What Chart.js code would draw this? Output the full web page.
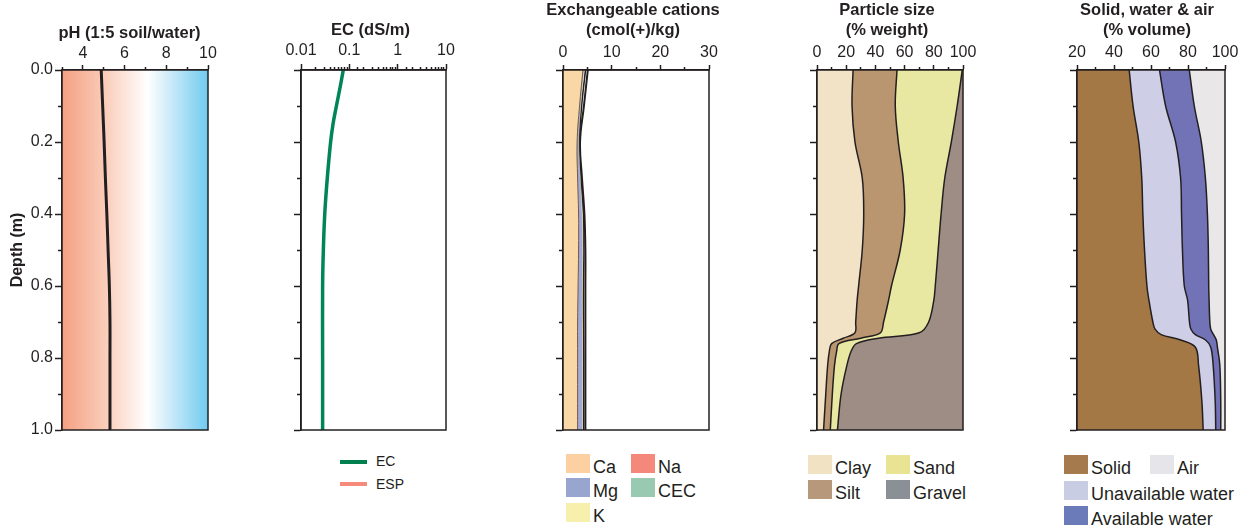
<!DOCTYPE html>
<html>
<head>
<meta charset="utf-8">
<title>Soil profile</title>
<script src="https://cdn.jsdelivr.net/npm/chart.js@4.4.1/dist/chart.umd.min.js"></script>
<style>
    html, body { margin: 0; padding: 0; background: #fff; }
    body {
        width: 1250px; height: 531px; position: relative; overflow: hidden;
        font-family: 'Liberation Sans', Arial, Helvetica, sans-serif; color: #231f20;
    }
    canvas { position: absolute; top: 0; }
    .legend { position: absolute; }
    .item { position: absolute; height: 19px; white-space: nowrap; }
    .box { position: absolute; left: 0; top: 0; width: 24px; height: 19px; }
    .txt { position: absolute; left: 27px; bottom: -3px; font-size: 18px; line-height: 1; }
    .line { position: absolute; left: 0; top: 7.5px; width: 27px; height: 4px; }
    .ltxt { position: absolute; left: 36px; top: 0; font-size: 14px; line-height: 19px; }
</style>
</head>
<body>
<canvas id="phChart" width="259" height="442" style="left:0px"></canvas>
<canvas id="ecChart" width="219" height="442" style="left:261px"></canvas>
<canvas id="cationChart" width="220" height="442" style="left:523px"></canvas>
<canvas id="sizeChart" width="220" height="442" style="left:777px"></canvas>
<canvas id="phaseChart" width="220" height="442" style="left:1037px"></canvas>
<div class="legend" id="ecLegend" style="left:340px; top:452px"></div>
<div class="legend" id="cationLegend" style="left:566px; top:454px"></div>
<div class="legend" id="sizeLegend" style="left:808px; top:455px"></div>
<div class="legend" id="phaseLegend" style="left:1064px; top:455px"></div>

<script>
// 土壤剖面图 - 数据

const depthLabels = ['0.0', '0.2', '0.4', '0.6', '0.8', '1.0'];

// pH
const phDepth = [0, 0.1, 0.2, 0.3, 0.4, 0.5, 0.6, 0.7, 0.8, 0.9, 1.0];
const phValues = [4.88, 4.95, 5.02, 5.08, 5.15, 5.21, 5.27, 5.3, 5.3, 5.3, 5.3];
const phTickLabels = [4, 6, 8, 10];

// EC / ESP
const ecDepth = [0, 0.05, 0.1, 0.15, 0.2, 0.3, 0.4, 0.5, 0.6, 0.8, 1.0];
const ecValues = [0.075, 0.064, 0.054, 0.046, 0.041, 0.035, 0.031, 0.029, 0.028, 0.028, 0.028];
const espValues = [];
const ecTickLabels = ['0.01', '0.1', '1', '10'];

// 交换性阳离子
const cationDepth = [0, 0.1, 0.2, 0.3, 0.4, 0.5, 0.6, 0.7, 0.8, 0.9, 1.0];
const caValues = [4.1, 3.4, 2.9, 3.0, 3.2, 3.2, 3.1, 3.0, 3.0, 3.0, 3.0];
const mgValues = [0.2, 0.2, 0.3, 0.5, 0.7, 0.8, 0.8, 0.9, 0.95, 0.95, 0.95];
const kValues = [0.15, 0.1, 0.1, 0.1, 0.15, 0.15, 0.15, 0.15, 0.15, 0.15, 0.15];
const naValues = [0.15, 0.1, 0.05, 0.05, 0.1, 0.1, 0.1, 0.1, 0.1, 0.1, 0.1];
const cecValues = [5.1, 4.3, 3.5, 3.9, 4.4, 4.6, 4.6, 4.6, 4.6, 4.6, 4.6];
const cationTickLabels = [0, 10, 20, 30];

// 颗粒组成 (% weight)
const sizeDepth = [0, 0.1, 0.2, 0.3, 0.4, 0.5, 0.6, 0.64, 0.7, 0.73, 0.745, 0.76, 0.78, 0.82, 0.9, 1.0];
const clayValues = [24.7, 24, 26, 31, 32, 31, 28.5, 27.5, 26.5, 26, 18, 10, 8.5, 7.3, 6, 4.5];
const siltValues = [30.1, 29.6, 29.7, 28, 28, 26, 22.5, 21.5, 19.1, 17.4, 12, 5, 5, 4.7, 4.5, 4.6];
const sandValues = [44.7, 42.4, 36.3, 28.5, 25, 26, 30, 31, 30.9, 26.6, 12, 12, 10, 8.5, 6, 4.9];
const gravelValues = [0.5, 4, 8, 12.5, 15, 17, 19, 20, 23.5, 30, 58, 73, 76.5, 79.5, 83.5, 86];
const sizeTickLabels = [0, 20, 40, 60, 80, 100];

// 固液气三相 (% volume)
const phaseDepth = [0, 0.1, 0.2, 0.3, 0.4, 0.5, 0.6, 0.64, 0.7, 0.72, 0.735, 0.75, 0.77, 0.82, 0.92, 1.0];
const solidValues = [48.2, 50.3, 53.4, 55, 55.6, 56.5, 57.8, 58.9, 61, 62.2, 65.5, 76, 84, 85.7, 87.5, 88.2];
const unavailableValues = [16.4, 17.6, 19.9, 21, 20.9, 20.5, 20.2, 20.9, 19.8, 19.4, 18.5, 13.5, 8.3, 7.9, 7.2, 6.8];
const availableValues = [16.1, 15.5, 13.9, 13.4, 14, 14, 13.2, 11.6, 11, 10.7, 9.8, 5.8, 3.6, 3.6, 3, 2.7];
const airValues = [19.3, 16.6, 12.8, 10.6, 9.5, 9, 8.8, 8.6, 8.2, 7.7, 6.2, 4.7, 4.1, 2.8, 2.3, 2.3];
const phaseTickLabels = [20, 40, 60, 80, 100];

const INK = '#231f20';
const TITLE_SIZE = 16.5;
const TITLE_LINE = TITLE_SIZE * 1.2;
Chart.defaults.font.family = "'Liberation Sans', Arial, Helvetica, sans-serif";
Chart.defaults.font.size = 16;
Chart.defaults.color = INK;

function pts(depth, values) {
    return values.map((v, i) => ({ x: v, y: depth[i] }));
}

// 深度轴 (左侧)
function depthAxis(width, showLabels) {
    return {
        type: 'linear',
        reverse: true,
        min: 0,
        max: 1,
        afterFit: s => { s.width = width; },
        ticks: {
            stepSize: 0.1,
            autoSkip: false,
            display: showLabels,
            padding: 2,
            callback: v => depthLabels.includes(v.toFixed(1)) ? v.toFixed(1) : ''
        },
        grid: {
            drawOnChartArea: false,
            tickLength: 7,
            tickWidth: 1.5,
            tickColor: INK,
            tickBorderDash: c => (c.tick && !depthLabels.includes(c.tick.value.toFixed(1))) ? [0, 3, 20] : []
        },
        border: { color: INK, width: 1.5 },
        title: {
            display: showLabels,
            text: 'Depth (m)',
            font: { size: 16, weight: 'bold' },
            padding: { top: 8, bottom: 0 }
        }
    };
}

// 右侧占位轴 (只占宽度, 让标题居中)
function spacerAxis(width) {
    return {
        type: 'linear',
        position: 'right',
        display: true,
        min: 0,
        max: 1,
        ticks: { display: false },
        grid: { display: false },
        border: { display: false },
        afterFit: s => { s.width = width; }
    };
}

// 顶部数值轴
function topAxis(opts) {
    return {
        type: opts.type || 'linear',
        position: 'top',
        min: opts.min,
        max: opts.max,
        stacked: !!opts.stacked,
        afterFit: s => { s.height = opts.height; },
        ticks: {
            stepSize: opts.step,
            autoSkip: false,
            maxRotation: 0,
            padding: opts.pad,
            callback: opts.label
        },
        grid: {
            drawOnChartArea: false,
            tickLength: opts.tick,
            tickWidth: 1.5,
            tickColor: INK,
            tickBorderDash: c => (c.tick && !opts.isMajor(c.tick.value)) ? [0, opts.tick - 3, 20] : []
        },
        border: { color: INK, width: 1.5 }
    };
}

// 标题 + 顶部轴高度合计 70px
function panelTitle(text, padTop) {
    return {
        display: true,
        text: text,
        color: INK,
        font: { size: TITLE_SIZE, weight: 'bold' },
        padding: { top: padTop, bottom: 0 }
    };
}
function axisHeight(text, padTop) {
    const lines = Array.isArray(text) ? text.length : 1;
    return 70 - padTop - lines * TITLE_LINE;
}

// 外框
const framePlugin = {
    id: 'frame',
    afterDatasetsDraw(chart) {
        const a = chart.chartArea;
        const ctx = chart.ctx;
        ctx.save();
        ctx.strokeStyle = INK;
        ctx.lineWidth = 1.5;
        ctx.strokeRect(a.left, a.top, a.right - a.left, a.bottom - a.top);
        ctx.restore();
    }
};

// pH 背景渐变
const phGradientPlugin = {
    id: 'phGradient',
    beforeDatasetsDraw(chart) {
        const a = chart.chartArea;
        const x = chart.scales.x;
        const ctx = chart.ctx;
        const x0 = x.getPixelForValue(3);
        const x1 = x.getPixelForValue(10);
        const pos = v => (x.getPixelForValue(v) - x0) / (x1 - x0);
        const g = ctx.createLinearGradient(x0, 0, x1, 0);
        g.addColorStop(0, 'rgb(244,160,130)');
        g.addColorStop(pos(5), 'rgb(250,203,183)');
        g.addColorStop(pos(7.1), 'rgb(255,255,255)');
        g.addColorStop(pos(8.6), 'rgb(183,227,247)');
        g.addColorStop(1, 'rgb(112,203,240)');
        ctx.save();
        ctx.fillStyle = g;
        ctx.fillRect(a.left, a.top, a.right - a.left, a.bottom - a.top);
        ctx.restore();
    }
};

function baseOptions(title, padTop, tension) {
    return {
        indexAxis: 'y',
        responsive: false,
        animation: false,
        layout: { padding: { left: 0, top: 0, right: 0, bottom: 12 } },
        elements: { point: { radius: 0 }, line: { tension: tension } },
        plugins: {
            legend: { display: false },
            tooltip: { enabled: false },
            title: panelTitle(title, padTop)
        }
    };
}

function buildLegend(chart, id, slots, colX, rowH) {
    const el = document.getElementById(id);
    chart.data.datasets.forEach((ds, i) => {
        const [col, row] = slots[i];
        const item = document.createElement('div');
        item.className = 'item';
        item.style.left = colX[col] + 'px';
        item.style.top = (row * rowH) + 'px';
        const sw = document.createElement('span');
        sw.className = ds.legendLine ? 'line' : 'box';
        sw.style.background = ds.legendColor;
        const tx = document.createElement('span');
        tx.className = ds.legendLine ? 'ltxt' : 'txt';
        tx.textContent = ds.label;
        item.appendChild(sw);
        item.appendChild(tx);
        el.appendChild(item);
    });
}

// pH
const phTitle = 'pH (1:5 soil/water)';
const phChart = new Chart(document.getElementById('phChart'), {
    type: 'line',
    data: {
        datasets: [{
            label: 'pH',
            data: pts(phDepth, phValues),
            borderColor: INK,
            borderWidth: 3,
            fill: false
        }]
    },
    options: Object.assign(baseOptions(phTitle, 24, 0.4), {
        scales: {
            x: topAxis({
                min: 3, max: 10, step: 1, tick: 5, pad: 2, height: axisHeight(phTitle, 24),
                isMajor: v => phTickLabels.includes(v),
                label: v => phTickLabels.includes(v) ? String(v) : ''
            }),
            y: depthAxis(62, true),
            y2: spacerAxis(51)
        }
    }),
    plugins: [phGradientPlugin, framePlugin]
});

// EC
const ecTitle = 'EC (dS/m)';
const ecMajor = v => ecTickLabels.includes(String(+v.toPrecision(6)));
const ecChart = new Chart(document.getElementById('ecChart'), {
    type: 'line',
    data: {
        datasets: [{
            label: 'EC',
            data: pts(ecDepth, ecValues),
            borderColor: '#00845a',
            borderWidth: 3.5,
            fill: false,
            legendColor: '#00804f',
            legendLine: true
        }, {
            label: 'ESP',
            data: pts(ecDepth, espValues),
            borderColor: '#f68b7b',
            borderWidth: 3.5,
            fill: false,
            legendColor: '#f68b7b',
            legendLine: true
        }]
    },
    options: Object.assign(baseOptions(ecTitle, 21, 0.4), {
        scales: {
            x: topAxis({
                type: 'logarithmic', min: 0.01, max: 10, tick: 6, pad: 4, height: axisHeight(ecTitle, 21),
                isMajor: ecMajor,
                label: v => ecMajor(v) ? String(+v.toPrecision(6)) : ''
            }),
            y: depthAxis(40, false),
            y2: spacerAxis(34)
        }
    }),
    plugins: [framePlugin]
});
buildLegend(ecChart, 'ecLegend', [[0, 0], [0, 1]], [0], 22.5);

// 交换性阳离子
const cationTitle = ['Exchangeable cations', '(cmol(+)/kg)'];
const cationChart = new Chart(document.getElementById('cationChart'), {
    type: 'line',
    data: {
        datasets: [{
            label: 'Ca', data: pts(cationDepth, caValues), fill: 'origin',
            backgroundColor: '#f9d7a7', borderColor: '#6b5a4a', borderWidth: 1,
            legendColor: '#fdd0a2'
        }, {
            label: 'Mg', data: pts(cationDepth, mgValues), fill: '-1',
            backgroundColor: '#a4a8d6', borderWidth: 0, legendColor: '#98a6cf'
        }, {
            label: 'K', data: pts(cationDepth, kValues), fill: '-1',
            backgroundColor: '#f5efb0', borderWidth: 0, legendColor: '#f7f0ad'
        }, {
            label: 'Na', data: pts(cationDepth, naValues), fill: '-1',
            backgroundColor: '#f08a7a', borderColor: INK, borderWidth: 1.8,
            legendColor: '#f4897b'
        }, {
            label: 'CEC', data: pts(cationDepth, cecValues), fill: false, stack: 'cec',
            borderColor: INK, borderWidth: 2, legendColor: '#99c9b0'
        }]
    },
    options: Object.assign(baseOptions(cationTitle, 1, 0.4), {
        scales: {
            x: topAxis({
                min: 0, max: 30, step: 5, tick: 5, pad: 3, stacked: true, height: axisHeight(cationTitle, 1),
                isMajor: v => cationTickLabels.includes(v),
                label: v => cationTickLabels.includes(v) ? String(v) : ''
            }),
            y: depthAxis(40, false),
            y2: spacerAxis(34)
        }
    }),
    plugins: [framePlugin]
});
buildLegend(cationChart, 'cationLegend', [[0, 0], [0, 1], [0, 2], [1, 0], [1, 1]], [0, 65], 24.3);

// 颗粒组成
const sizeTitle = ['Particle size', '(% weight)'];
const sizeChart = new Chart(document.getElementById('sizeChart'), {
    type: 'line',
    data: {
        datasets: [{
            label: 'Clay', data: pts(sizeDepth, clayValues), fill: 'origin',
            backgroundColor: '#f2e3c6', borderColor: INK, borderWidth: 1.5, legendColor: '#f2e2c4'
        }, {
            label: 'Silt', data: pts(sizeDepth, siltValues), fill: '-1',
            backgroundColor: '#b9966f', borderColor: INK, borderWidth: 1.5, legendColor: '#b8987a'
        }, {
            label: 'Sand', data: pts(sizeDepth, sandValues), fill: '-1',
            backgroundColor: '#e9e8a2', borderColor: INK, borderWidth: 1.5, legendColor: '#e8e494'
        }, {
            label: 'Gravel', data: pts(sizeDepth, gravelValues), fill: '-1',
            backgroundColor: '#9d8d85', borderWidth: 0, legendColor: '#8a9096'
        }]
    },
    options: Object.assign(baseOptions(sizeTitle, 1, 0.35), {
        scales: {
            x: topAxis({
                min: 0, max: 100, step: 10, tick: 5, pad: 2.5, stacked: true, height: axisHeight(sizeTitle, 1),
                isMajor: v => sizeTickLabels.includes(v),
                label: v => sizeTickLabels.includes(v) ? String(v) : ''
            }),
            y: depthAxis(40, false),
            y2: spacerAxis(34)
        }
    }),
    plugins: [framePlugin]
});
buildLegend(sizeChart, 'sizeLegend', [[0, 0], [0, 1], [1, 0], [1, 1]], [0, 78], 25);

// 固液气
const phaseTitle = ['Solid, water & air', '(% volume)'];
const phaseChart = new Chart(document.getElementById('phaseChart'), {
    type: 'line',
    data: {
        datasets: [{
            label: 'Solid', data: pts(phaseDepth, solidValues), fill: 'origin',
            backgroundColor: '#a47845', borderColor: INK, borderWidth: 1.5, legendColor: '#a57a4c'
        }, {
            label: 'Unavailable water', data: pts(phaseDepth, unavailableValues), fill: '-1',
            backgroundColor: '#cecfe7', borderColor: INK, borderWidth: 1.5, legendColor: '#c8cde3'
        }, {
            label: 'Available water', data: pts(phaseDepth, availableValues), fill: '-1',
            backgroundColor: '#7272b6', borderColor: INK, borderWidth: 1.5, legendColor: '#6b7ab8'
        }, {
            label: 'Air', data: pts(phaseDepth, airValues), fill: '-1',
            backgroundColor: '#eae7e9', borderWidth: 0, legendColor: '#e6e5ea'
        }]
    },
    options: Object.assign(baseOptions(phaseTitle, 1, 0.35), {
        scales: {
            x: topAxis({
                min: 20, max: 100, step: 10, tick: 5, pad: 2.5, stacked: true, height: axisHeight(phaseTitle, 1),
                isMajor: v => phaseTickLabels.includes(v),
                label: v => phaseTickLabels.includes(v) ? String(v) : ''
            }),
            y: depthAxis(40, false),
            y2: spacerAxis(32)
        }
    }),
    plugins: [framePlugin]
});
buildLegend(phaseChart, 'phaseLegend', [[0, 0], [0, 1], [0, 2], [1, 0]], [0, 86], 25.5);
</script>
</body>
</html>
